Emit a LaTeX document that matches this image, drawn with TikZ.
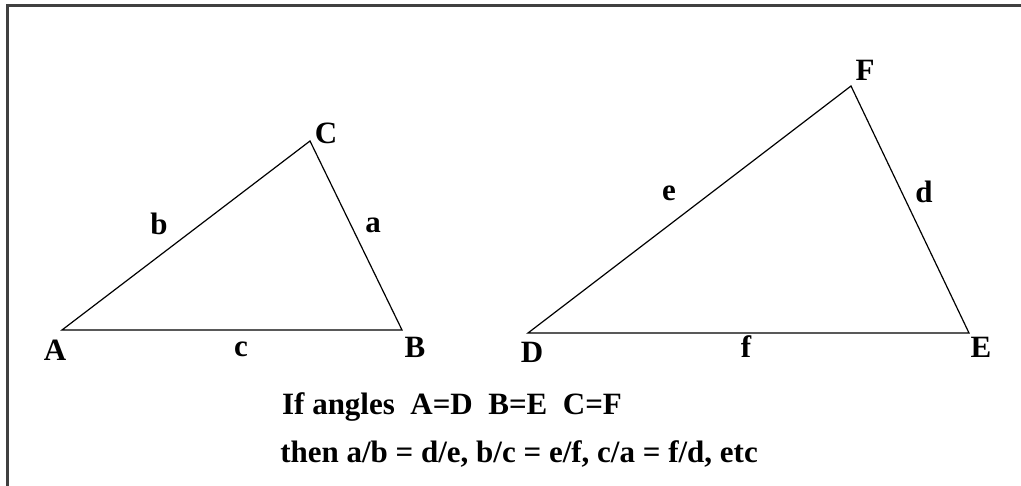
\documentclass[tikz,border=0pt]{standalone}
\usepackage{fontspec}
\setmainfont{Liberation Serif}
\begin{document}
\begin{tikzpicture}[x=1pt,y=-1pt,
  lbl/.style={anchor=base,inner sep=0pt,font=\fontsize{31}{35}\selectfont\bfseries},
  edge/.style={line width=1.2pt,black},
  frame/.style={line width=3pt,draw={rgb,255:red,64;green,64;blue,64}}]
\useasboundingbox (0,0) rectangle (1021,486);
\draw[frame] (7.5,486) -- (7.5,5.5) -- (1021,5.5);
% first triangle
\coordinate (A) at (62,330);
\coordinate (B) at (402,330);
\coordinate (C) at (310,141);
\draw[edge] (A) -- (B) -- (C) -- cycle;
% second triangle
\coordinate (D) at (528,333);
\coordinate (E) at (969,333);
\coordinate (F) at (851,86);
\draw[edge] (D) -- (E) -- (F) -- cycle;
% vertex labels
\node[lbl] (lA) at (55,361) {A};
\node[lbl] (lB) at (415,358) {B};
\node[lbl] (lC) at (326,144) {C};
\node[lbl] (lD) at (532,363) {D};
\node[lbl] (lE) at (981,358) {E};
\node[lbl] (lF) at (865,81) {F};
% side labels
\node[lbl] (la) at (373,233) {a};
\node[lbl] (lb) at (159,235) {b};
\node[lbl] (lc) at (241,357) {c};
\node[lbl] (ld) at (924,203) {d};
\node[lbl] (le) at (669,201) {e};
\node[lbl] (lf) at (746,358) {f};
% text
\node[lbl] (t1) at (452,415) {If angles\ \ A=D\ \ B=E\ \ C=F};
\node[lbl] (t2) at (519,462) {then a/b = d/e, b/c = e/f, c/a = f/d, etc};
\end{tikzpicture}
\end{document}
